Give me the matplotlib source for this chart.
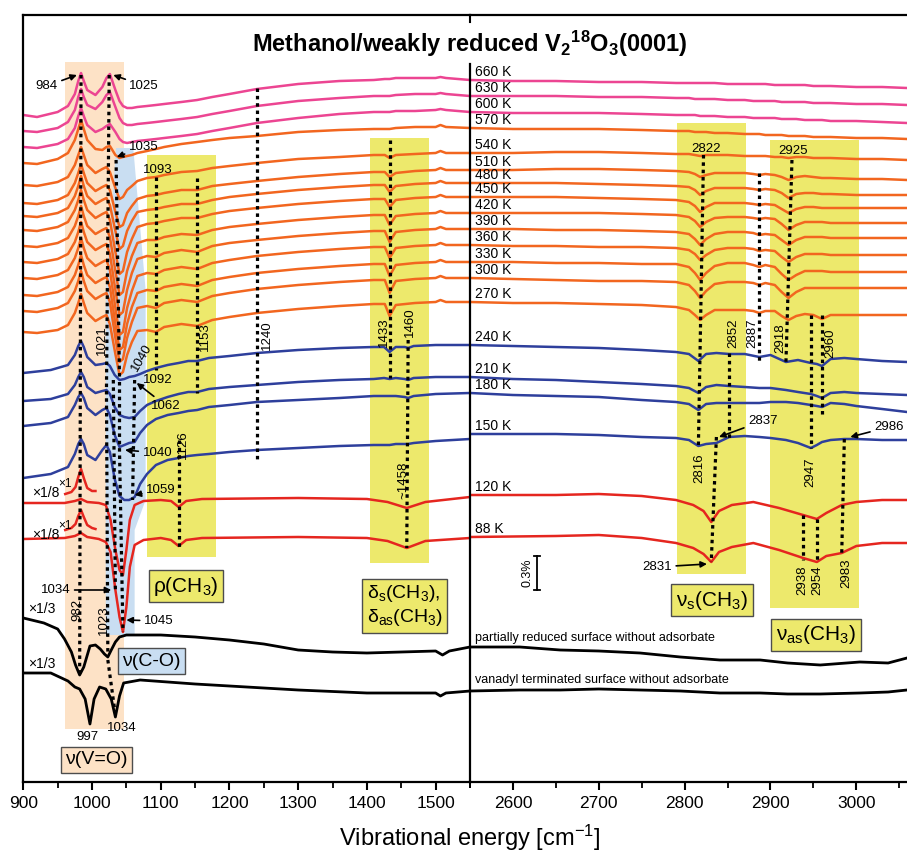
import numpy as np
import matplotlib
matplotlib.use('Agg')
import matplotlib.pyplot as plt
from matplotlib.patches import Polygon, Rectangle
from matplotlib.ticker import MultipleLocator

plt.rcParams['font.family'] = ['Liberation Sans', 'DejaVu Sans']
plt.rcParams['mathtext.fontset'] = 'custom'
plt.rcParams['mathtext.rm'] = 'Liberation Sans'
plt.rcParams['mathtext.it'] = 'Liberation Sans:italic'
plt.rcParams['mathtext.bf'] = 'Liberation Sans:bold'

# ---------------- data (arb. units, stacked) ----------------
temps = ['660 K', '630 K', '600 K', '570 K', '540 K', '510 K', '480 K', '450 K',
         '420 K', '390 K', '360 K', '330 K', '300 K', '270 K',
         '240 K', '210 K', '180 K', '150 K', '120 K', '88 K']
offsets = [702, 686, 670, 654, 629, 612, 599, 585, 569, 553, 537, 520, 504, 480,
           437, 405, 389, 348, 287, 245]
groups = ['pink'] * 3 + ['orange'] * 11 + ['blue'] * 4 + ['red'] * 2
off_partial = 135
off_vanadyl = 91

# left panel grids (cm-1)
xl_hot = [900, 920, 950, 965, 975, 980, 984, 988, 993, 1005, 1015, 1021, 1026, 1034, 1040, 1045,
          1051, 1058, 1066, 1080, 1093, 1105, 1130, 1153, 1175, 1200, 1240, 1300, 1360, 1410,
          1426, 1433, 1442, 1470, 1500, 1507, 1515, 1550]
xl_cold = [900, 940, 965, 975, 980, 984, 988, 993, 1005, 1015, 1021, 1026, 1033, 1040, 1047, 1054,
           1062, 1070, 1080, 1093, 1110, 1126, 1140, 1153, 1170, 1200, 1240, 1300, 1360, 1410,
           1425, 1433, 1442, 1455, 1460, 1468, 1500, 1550]
xl_red = [900, 960, 975, 984, 993, 1010, 1020, 1027, 1034, 1040, 1045, 1050, 1055, 1062, 1075,
          1100, 1115, 1126, 1137, 1160, 1300, 1400, 1430, 1458, 1485, 1550]
xl_part = [900, 930, 950, 960, 970, 976, 982, 988, 997, 1005, 1012, 1018, 1023, 1028, 1034, 1040,
           1050, 1070, 1100, 1150, 1200, 1250, 1300, 1350, 1400, 1450, 1500, 1510, 1520, 1550]
xl_van = [900, 940, 965, 975, 982, 990, 997, 1003, 1011, 1020, 1028, 1034, 1040, 1046, 1070, 1150,
          1300, 1400, 1500, 1507, 1515, 1550]
x_inset = [961, 970, 976, 980, 984, 988, 993, 1000, 1005]

# right panel grids (cm-1)
xr_hot = [2550, 2600, 2650, 2700, 2750, 2790, 2805, 2812, 2818, 2825, 2835, 2850, 2870, 2880,
          2887, 2894, 2905, 2913, 2921, 2930, 2940, 2950, 2960, 2970, 3000, 3030, 3059]
xr_cold = [2550, 2600, 2650, 2700, 2750, 2790, 2805, 2816, 2825, 2837, 2852, 2870, 2887, 2900,
           2918, 2932, 2947, 2954, 2960, 2970, 2986, 3000, 3030, 3059]
xr_red = [2550, 2650, 2700, 2750, 2790, 2810, 2822, 2831, 2840, 2855, 2880, 2910, 2938, 2954,
          2965, 2983, 3000, 3030, 3059]
xr_black = [2550, 2608, 2655, 2700, 2748, 2795, 2841, 2888, 2920, 2958, 3004, 3037, 3059]

# left panel spectra, relative to offset
y660_l = [-35, -37, -32, -26, -14, -1, 7, -1, -10, -15, -7, 2, 6, -10, -21, -26, -28, -28, -27,
          -26, -25, -24, -22, -20, -17, -14, -9, -4, -1, 0, 1, 1, 2, 2, 2, 3, 2, 0]
y630_l = [-35, -36, -32, -26, -14, -1, 7, -1, -9, -13, -6, 1, 4, -11, -22, -27, -29, -29, -28,
          -27, -26, -25, -23, -21, -18, -15, -10, -5, -2, 0, 0, 0, 1, 2, 2, 3, 2, 0]
y600_l = [-35, -36, -32, -27, -16, -4, 4, -4, -13, -20, -17, -14, -12, -20, -27, -30, -31, -30, -29,
          -28, -27, -26, -24, -22, -19, -16, -11, -6, -2, 0, 0, 0, 1, 1, 2, 3, 2, 0]
y570_l = [-35, -36, -31, -25, -12, -1, 8, -1, -12, -21, -22, -19, -18, -27, -30, -29, -28, -27, -25,
          -23, -21, -19, -16, -14, -12, -10, -8, -4, -2, -1, -1, -1, 0, 1, 1, 3, 1, 0]
y540_l = [-32, -33, -29, -24, -12, -2, 6, -2, -12, -20, -16, -14, -19, -35, -46, -44, -37, -33, -28,
          -25, -24, -22, -19, -18, -15, -13, -10, -6, -4, -2, -2, -5, -2, -1, 0, 2, 0, 0]
y510_l = [-33, -34, -30, -25, -13, -3, 6, -3, -13, -21, -17, -15, -20, -42, -57, -55, -43, -36, -29,
          -26, -25, -23, -20, -20, -16, -14, -11, -7, -4, -2, -2, -7, -3, -1, 0, 2, 0, 0]
y480_l = [-33, -34, -30, -25, -13, -3, 7, -3, -13, -21, -17, -15, -22, -48, -66, -63, -48, -38, -29,
          -27, -26, -24, -21, -21, -17, -14, -11, -7, -4, -2, -2, -9, -3, -1, 0, 2, 0, 0]
y450_l = [-33, -34, -30, -25, -13, -3, 7, -3, -13, -21, -17, -15, -23, -55, -77, -74, -55, -42, -30,
          -27, -26, -24, -21, -21, -17, -14, -11, -7, -4, -2, -2, -10, -3, -1, 0, 2, 0, 0]
y420_l = [-33, -34, -30, -25, -13, -3, 7, -3, -13, -21, -17, -15, -24, -58, -82, -79, -58, -43, -30,
          -27, -27, -24, -21, -22, -17, -14, -11, -7, -4, -2, -2, -12, -3, -1, 0, 2, 0, 0]
y390_l = [-33, -34, -30, -25, -13, -3, 7, -3, -13, -21, -17, -15, -25, -61, -86, -83, -61, -44, -30,
          -27, -28, -24, -21, -23, -17, -14, -11, -7, -4, -2, -2, -13, -3, -1, 0, 2, 0, 0]
y360_l = [-33, -34, -30, -25, -13, -3, 7, -3, -13, -21, -17, -15, -25, -63, -90, -87, -63, -46, -31,
          -28, -29, -25, -22, -24, -18, -15, -11, -7, -4, -2, -2, -13, -3, -1, 0, 2, 0, 0]
y330_l = [-33, -34, -30, -25, -13, -3, 7, -3, -13, -21, -17, -15, -25, -62, -88, -85, -62, -45, -31,
          -28, -29, -25, -22, -24, -18, -15, -11, -7, -4, -2, -2, -14, -3, -1, 0, 2, 0, 0]
y300_l = [-33, -34, -30, -25, -13, -3, 7, -3, -13, -21, -17, -15, -24, -60, -84, -81, -60, -44, -30,
          -28, -30, -25, -22, -24, -18, -15, -11, -7, -4, -2, -2, -15, -3, -1, 0, 2, 0, 0]
y270_l = [-30, -31, -28, -23, -11, -1, 8, -1, -11, -19, -15, -13, -22, -52, -73, -70, -53, -40, -29,
          -28, -30, -25, -22, -24, -18, -15, -11, -7, -4, -2, -2, -14, -3, -1, 0, 2, 0, 0]
y240_l = [-28, -25, -20, -10, -1, 4, -2, -12, -20, -19, -18, -21, -30, -35, -34, -32, -31, -29, -26,
          -23, -20, -18, -16, -16, -13, -11, -8, -5, -3, -2, -2, -7, -2, -2, -3, -1, 0, 0]
y210_l = [-24, -22, -17, -8, 0, 5, 0, -10, -16, -14, -13, -17, -30, -38, -40, -41, -40, -34, -28,
          -24, -20, -17, -15, -15, -12, -10, -8, -5, -3, -2, -1, -2, -1, -2, -3, -1, 0, 0]
y180_l = [-33, -30, -24, -12, -4, 0, -5, -15, -22, -17, -15, -22, -42, -54, -52, -50, -49, -40, -32,
          -26, -22, -20, -18, -17, -14, -12, -9, -7, -5, -3, -3, -3, -3, -4, -5, -3, -1, 0]
y150_l = [-44, -40, -33, -20, -10, -5, -10, -21, -26, -16, -11, -18, -45, -62, -66, -66, -63, -50, -40,
          -31, -26, -24, -22, -21, -20, -18, -16, -14, -12, -11, -11, -11, -10, -10, -10, -9, -7, -5]
y120_l = [-8, -8, -6, -4, -7, -8, -10, -25, -55, -75, -80, -55, -25, -10, -6, -5, -6, -12, -6, -4,
          -3, -4, -7, -13, -7, -2]
y88_l = [-2, -1, 1, 4, 0, -2, -5, -15, -53, -80, -95, -70, -30, -8, -3, -1, -3, -9, -3, -1,
         0, -1, -4, -11, -4, -1]
y120_inset = [1, 3, 8, 18, 26, 17, 7, 4, 4]
y88_inset = [7, 9, 13, 21, 27, 20, 12, 9, 8]
ypart_l = [29, 24, 18, 8, -5, -18, -28, -20, 1, 2, -2, -7, -10, -3, 5, 10, 12, 12, 12, 10, 7, 3,
           -3, -5, -6, -5, -4, -8, -4, 0]
yvan_l = [18, 18, 10, 4, 2, -8, -33, -8, 4, 2, -8, -26, -5, 8, 11, 7, 1, -2, -2, -5, -2, 0]

# right panel spectra, relative to offset
y660_r = [0, -1, -1, -2, -2, -3, -3, -3, -3, -3, -3, -4, -4, -4, -4, -4, -5, -5, -5, -5, -5, -6, -6, -6, -7, -7, -8]
y630_r = [0, 0, 0, -1, -1, -2, -2, -3, -3, -3, -3, -4, -4, -5, -5, -5, -5, -6, -6, -6, -6, -7, -7, -7, -8, -8, -9]
y600_r = [0, -1, -1, -1, -2, -3, -3, -3, -4, -4, -4, -5, -5, -6, -6, -6, -6, -7, -7, -7, -8, -8, -8, -9, -9, -10, -11]
y570_r = [0, -1, -1, -1, -2, -3, -3, -4, -4, -4, -5, -5, -6, -6, -6, -7, -7, -7, -8, -8, -8, -9, -9, -9, -10, -10, -11]
y540_r = [0, 0, 1, 1, 0, -1, -1, -2, -3, -2, -2, -2, -3, -3, -3, -3, -4, -4, -5, -4, -4, -5, -5, -5, -6, -6, -7]
y510_r = [0, 0, 1, 1, 0, -1, -2, -4, -7, -5, -3, -3, -3, -4, -5, -4, -5, -7, -10, -7, -6, -7, -8, -8, -9, -9, -10]
y480_r = [0, 0, 0, -1, -2, -3, -4, -7, -12, -8, -5, -5, -5, -6, -7, -6, -7, -10, -15, -11, -10, -10, -11, -11, -12, -12, -12]
y450_r = [0, 0, 0, -1, -2, -3, -5, -9, -15, -10, -6, -6, -6, -7, -8, -7, -8, -12, -16, -12, -10, -10, -11, -11, -11, -11, -11]
y420_r = [0, 0, 0, 0, -1, -2, -4, -8, -14, -9, -5, -4, -4, -5, -6, -5, -6, -11, -17, -12, -9, -9, -9, -10, -10, -10, -10]
y390_r = [0, 0, -1, -1, -2, -3, -5, -10, -16, -10, -5, -3, -3, -4, -6, -5, -6, -11, -16, -11, -8, -8, -8, -9, -9, -9, -9]
y360_r = [0, -1, -1, -2, -2, -3, -5, -9, -15, -10, -5, -3, -3, -4, -6, -5, -6, -12, -17, -12, -9, -9, -9, -10, -10, -10, -10]
y330_r = [0, 0, -1, -1, -2, -2, -5, -11, -18, -11, -4, -1, -1, -3, -5, -3, -5, -12, -18, -13, -9, -9, -9, -10, -10, -10, -10]
y300_r = [0, -1, -2, -3, -3, -4, -7, -13, -20, -13, -6, -4, -4, -5, -7, -5, -7, -14, -20, -14, -10, -10, -10, -10, -10, -10, -10]
y270_r = [0, -1, -1, -2, -3, -5, -8, -13, -18, -13, -8, -8, -8, -9, -11, -9, -9, -14, -18, -14, -12, -13, -17, -13, -13, -13, -13]
y240_r = [0, -1, -2, -3, -5, -7, -9, -16, -9, -8, -9, -9, -12, -10, -17, -15, -18, -19, -21, -14, -13, -14, -16, -17]
y210_r = [0, -2, -3, -5, -7, -9, -11, -16, -10, -8, -9, -10, -11, -11, -13, -15, -17, -19, -21, -16, -15, -16, -17, -18]
y180_r = [0, -2, -3, -4, -7, -9, -11, -17, -11, -10, -10, -10, -10, -9, -9, -10, -12, -13, -14, -10, -11, -13, -16, -19]
y150_r = [0, 0, 0, -1, -3, -4, -6, -12, -10, -9, -3, -2, -3, -4, -6, -9, -14, -11, -8, -6, -5, -5, -6, -6]
y120_r = [0, 0, 1, -1, -5, -10, -16, -27, -16, -10, -7, -13, -20, -24, -18, -10, -7, -5, -5]
y88_r = [0, 1, 2, -1, -6, -11, -17, -25, -15, -10, -6, -13, -21, -25, -19, -16, -9, -6, -6]
ypart_r = [0, 0, -3, -4, -6, -10, -13, -13, -16, -18, -15, -16, -11]
yvan_r = [0, 1, 1, 2, 1, 0, -2, -2, -3, -3, -2, -1, 1]

left_curves = [y660_l, y630_l, y600_l, y570_l, y540_l, y510_l, y480_l, y450_l, y420_l, y390_l,
               y360_l, y330_l, y300_l, y270_l, y240_l, y210_l, y180_l, y150_l, y120_l, y88_l]
right_curves = [y660_r, y630_r, y600_r, y570_r, y540_r, y510_r, y480_r, y450_r, y420_r, y390_r,
                y360_r, y330_r, y300_r, y270_r, y240_r, y210_r, y180_r, y150_r, y120_r, y88_r]

colors = {'pink': '#ec4592', 'orange': '#f2661f', 'blue': '#2e3f9c', 'red': '#e5261f'}
grid_l = {'pink': xl_hot, 'orange': xl_hot, 'blue': xl_cold, 'red': xl_red}
grid_r = {'pink': xr_hot, 'orange': xr_hot, 'blue': xr_cold, 'red': xr_red}

# marked band positions: (x_top, y_top, x_bottom, y_bottom)
dashes_left = [(984, 707, 982, 107), (1023, 122, 1033, 72), (1035, 622, 1040, 404),
               (1031, 402, 1034, 192), (1062, 402, 1059, 282), (1093, 605, 1093, 412),
               (1153, 604, 1153, 389), (1240, 694, 1240, 322), (1126, 342, 1126, 234),
               (1433, 642, 1433, 404), (1460, 442, 1458, 234)]
dashes_right = [(2822, 627, 2816, 335), (2837, 345, 2831, 220), (2852, 429, 2852, 344),
                (2887, 609, 2887, 419), (2925, 622, 2918, 420), (2947, 467, 2947, 334),
                (2960, 467, 2960, 365), (2938, 267, 2938, 222), (2954, 263, 2954, 220),
                (2986, 343, 2983, 229)]

# ---------------- figure ----------------
W, H = 907, 856
fig = plt.figure(figsize=(W / 100, H / 100), dpi=100)
ax1 = fig.add_axes([23.3 / W, 74 / H, 446.7 / W, 767 / H])
ax2 = fig.add_axes([470 / W, 74 / H, 437 / W, 767 / H])
ax1.set_xlim(900, 1550)
ax2.set_xlim(2550, 3059)
for ax in (ax1, ax2):
    ax.set_ylim(0, 767)
    ax.set_yticks([])
    ax.patch.set_alpha(0)
    ax.xaxis.set_major_locator(MultipleLocator(100))
    ax.xaxis.set_minor_locator(MultipleLocator(50))
    ax.tick_params(axis='x', which='major', direction='out', length=6, width=1.5,
                   labelsize=12.5, pad=4)
    ax.tick_params(axis='x', which='minor', direction='out', length=4, width=1.3)
    for s in ax.spines.values():
        s.set_linewidth(1.6)
ax1.spines['right'].set_visible(False)
ax2.spines['right'].set_visible(False)
ax2.spines['left'].set_bounds(0, 718)
ax1.set_xticks([900, 1000, 1100, 1200, 1300, 1400, 1500])
ax2.set_xticks([2600, 2700, 2800, 2900, 3000])
ax2.plot([2550, 2550], [767, 760], color='k', lw=1.5, clip_on=False)

peach, lblue, yellow = '#fde2c6', '#c9def2', '#ede96c'
ax1.add_patch(Rectangle((961, 53), 86, 667, fc=peach, ec='none', zorder=0))
ax1.add_patch(Polygon([(1035, 634), (1060, 634), (1078, 492), (1078, 282), (1062, 252),
                       (1062, 147), (1020, 147), (1020, 492)], closed=True,
                      fc=lblue, ec='none', zorder=0.5))
ax1.add_patch(Rectangle((1080, 225), 100, 402, fc=yellow, ec='none', zorder=0))
ax1.add_patch(Rectangle((1405, 219), 85, 425, fc=yellow, ec='none', zorder=0))
ax2.add_patch(Rectangle((2791, 208), 81, 451, fc=yellow, ec='none', zorder=0))
ax2.add_patch(Rectangle((2900, 174), 103, 468, fc=yellow, ec='none', zorder=0))

# spectra
for i, t in enumerate(temps):
    g = groups[i]
    c = colors[g]
    ax1.plot(grid_l[g], offsets[i] + np.array(left_curves[i]), color=c, lw=1.8, zorder=2)
    ax2.plot(grid_r[g], offsets[i] + np.array(right_curves[i]), color=c, lw=1.8, zorder=2)
    ax2.text(2556, offsets[i] + 8, t, fontsize=10, va='center', ha='left', zorder=4)
ax1.plot(x_inset, offsets[18] + np.array(y120_inset), color=colors['red'], lw=1.8, zorder=2)
ax1.plot(x_inset, offsets[19] + np.array(y88_inset), color=colors['red'], lw=1.8, zorder=2)
ax1.plot(xl_part, off_partial + np.array(ypart_l), color='k', lw=2, zorder=2)
ax1.plot(xl_van, off_vanadyl + np.array(yvan_l), color='k', lw=2, zorder=2)
ax2.plot(xr_black, off_partial + np.array(ypart_r), color='k', lw=2, zorder=2)
ax2.plot(xr_black, off_vanadyl + np.array(yvan_r), color='k', lw=2, zorder=2)
ax2.text(2556, off_partial + 9, 'partially reduced surface without adsorbate', fontsize=9,
         va='center', ha='left')
ax2.text(2556, off_vanadyl + 11, 'vanadyl terminated surface without adsorbate', fontsize=9,
         va='center', ha='left')

# dotted band markers
dot = dict(color='k', lw=2.3, ls=(0, (1.1, 1.2)), zorder=3)
ax1.plot([1025, 1021, 1023], [707, 392, 127], **dot)
ax1.plot([1040, 1040, 1045], [400, 330, 150], **dot)
for x0, y0, x1, y1 in dashes_left:
    ax1.plot([x0, x1], [y0, y1], **dot)
for x0, y0, x1, y1 in dashes_right:
    ax2.plot([x0, x1], [y0, y1], **dot)

fs = 9.5
arr = dict(arrowstyle='-|>', color='k', lw=1.2, mutation_scale=9, shrinkA=1, shrinkB=0)

def note(ax, s, xy, xytext):
    ax.annotate(s, xy=xy, xytext=xytext, fontsize=fs, ha='center', va='center',
                arrowprops=arr, zorder=5)

note(ax1, '984', (978, 707), (934, 696))
note(ax1, '1025', (1031, 707), (1076, 696))
note(ax1, '1035', (1036, 625), (1075, 635))
note(ax1, '1062', (1065, 399), (1108, 376))
note(ax1, '1040', (1048, 332), (1095, 329))
note(ax1, '1059', (1062, 287), (1100, 292))
note(ax1, '1034', (1028, 192), (947, 192))
note(ax1, '1045', (1050, 162), (1097, 161))
note(ax2, '2837', (2840, 345), (2891, 361))
note(ax2, '2986', (2993, 345), (3038, 355))
note(ax2, '2831', (2826, 218), (2768, 215))

plain = [(1096, 612, '1093'), (1096, 402, '1092'), (993, 45, '997'), (1044, 54, '1034')]
for x, y, s in plain:
    ax1.text(x, y, s, fontsize=fs, ha='center', va='center', zorder=5)
ax2.text(2825, 633, '2822', fontsize=fs, ha='center', va='center', zorder=5)
ax2.text(2926, 631, '2925', fontsize=fs, ha='center', va='center', zorder=5)

rot_left = [(1014, 442, '1021'), (1164, 445, '1153'), (1254, 447, '1240'), (1132, 337, '1126'),
            (978, 172, '982'), (1017, 162, '1023'), (1425, 450, '1433'), (1463, 460, '1460'),
            (1453, 302, '~1458')]
for x, y, s in rot_left:
    ax1.text(x, y, s, fontsize=fs, rotation=90, ha='center', va='center', zorder=5)
ax1.text(1073, 424, '1040', fontsize=fs, rotation=60, ha='center', va='center', zorder=5)
rot_right = [(2817, 314, '2816'), (2857, 449, '2852'), (2879, 449, '2887'), (2911, 444, '2918'),
             (2970, 439, '2960'), (2946, 310, '2947'), (2937, 202, '2938'), (2954, 202, '2954'),
             (2988, 209, '2983')]
for x, y, s in rot_right:
    ax2.text(x, y, s, fontsize=fs, rotation=90, ha='center', va='center', zorder=5)

# scaling marks
for y in (offsets[18] - 6, offsets[19] - 6):
    ax1.text(933, y + 8, '\u00d71/8', fontsize=10, ha='center', va='center')
    ax1.text(960, y + 17, '\u00d71', fontsize=8.5, ha='center', va='center')
ax1.text(927, 173, '\u00d71/3', fontsize=10, ha='center', va='center')
ax1.text(927, 118, '\u00d71/3', fontsize=10, ha='center', va='center')

# scale bar 0.3 %
ax2.plot([2628, 2628], [192, 226], color='k', lw=1.3)
ax2.plot([2624, 2632], [226, 226], color='k', lw=1.3)
ax2.plot([2624, 2632], [192, 192], color='k', lw=1.3)
ax2.text(2617, 209, '0.3%', fontsize=9, rotation=90, ha='center', va='center')

# assignment boxes
def box(ax, x, y, s, fc, size=15):
    ax.text(x, y, s, fontsize=size, ha='center', va='center', multialignment='left', zorder=6,
            bbox=dict(boxstyle='square,pad=0.22', fc=fc, ec='#4d4d4d', lw=1))

box(ax1, 1137, 196, '\u03c1(CH$_\\mathrm{3}$)', yellow)
box(ax1, 1086, 121, '\u03bd(C-O)', lblue, 14)
box(ax1, 1006, 22, '\u03bd(V=O)', peach, 14)
box(ax1, 1455, 176, '\u03b4$_\\mathrm{s}$(CH$_\\mathrm{3}$),\n\u03b4$_\\mathrm{as}$(CH$_\\mathrm{3}$)', yellow, 14)
box(ax2, 2832, 182, '\u03bd$_\\mathrm{s}$(CH$_\\mathrm{3}$)', yellow)
box(ax2, 2953, 147, '\u03bd$_\\mathrm{as}$(CH$_\\mathrm{3}$)', yellow)

fig.text(470 / W, 1 - 44 / H, 'Methanol/weakly reduced V$_\\mathbf{2}$$^\\mathbf{18}$O$_\\mathbf{3}$(0001)',
         fontsize=17, fontweight='bold', ha='center', va='center')
fig.text(470 / W, 1 - 838 / H, 'Vibrational energy [cm$^{\\mathrm{-1}}$]', fontsize=17,
         ha='center', va='center')

fig.savefig('out.png', dpi=100)
